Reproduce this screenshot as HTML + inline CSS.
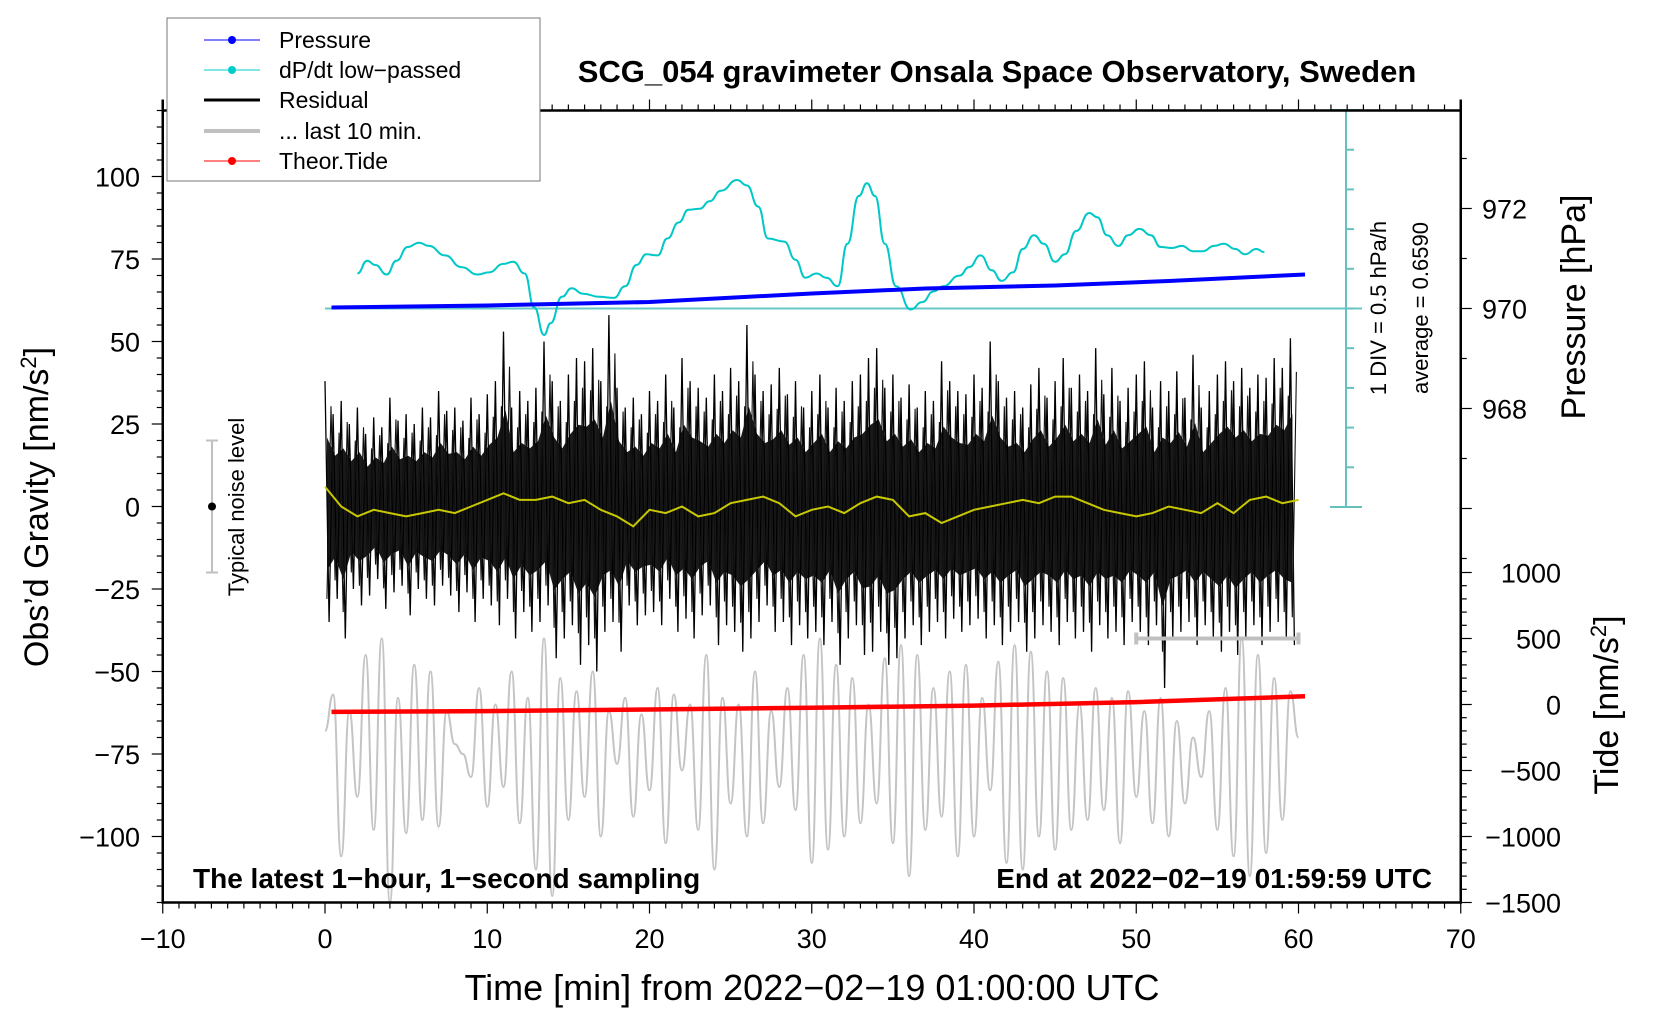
<!DOCTYPE html>
<html><head><meta charset="utf-8"><style>
html,body{margin:0;padding:0;background:#fff;}
svg{display:block;font-family:"Liberation Sans",sans-serif;}
</style></head><body>
<svg id="chart" width="1660" height="1020" viewBox="0 0 1660 1020" xmlns="http://www.w3.org/2000/svg">
<g id="marks"></g>
<g id="axes"></g>
<text x="997" y="82" font-size="31" font-weight="bold" text-anchor="middle">SCG_054 gravimeter Onsala Space Observatory, Sweden</text>
<text x="193" y="888" font-size="28" font-weight="bold">The latest 1−hour, 1−second sampling</text>
<text x="1432" y="888" font-size="28" font-weight="bold" text-anchor="end">End at 2022−02−19 01:59:59 UTC</text>
<text x="812" y="1000" font-size="36" text-anchor="middle">Time [min] from 2022−02−19 01:00:00 UTC</text>
<text transform="translate(48,507) rotate(-90)" font-size="34" text-anchor="middle">Obs’d Gravity [nm/s<tspan font-size="22" dy="-12">2</tspan><tspan dy="12">]</tspan></text>
<text transform="translate(1585,307) rotate(-90)" font-size="34" text-anchor="middle">Pressure [hPa]</text>
<text transform="translate(1618,705) rotate(-90)" font-size="34" text-anchor="middle">Tide [nm/s<tspan font-size="22" dy="-12">2</tspan><tspan dy="12">]</tspan></text>
<text transform="translate(244,507) rotate(-90)" font-size="22" text-anchor="middle">Typical noise level</text>
<text transform="translate(1386,308) rotate(-90)" font-size="22" text-anchor="middle">1 DIV = 0.5 hPa/h</text>
<text transform="translate(1428,308) rotate(-90)" font-size="22" text-anchor="middle">average = 0.6590</text>
<g>
<rect x="167" y="18" width="373" height="163" fill="#fff" stroke="#777" stroke-width="1"/>
<g><line x1="204" y1="40" x2="260" y2="40" stroke="#0000ff" stroke-width="1"/><circle cx="232" cy="40" r="4" fill="#0000ff"/><text x="279" y="48" font-size="23">Pressure</text></g>
<g><line x1="204" y1="70" x2="260" y2="70" stroke="#00cccc" stroke-width="1"/><circle cx="232" cy="70" r="4" fill="#00cccc"/><text x="279" y="78" font-size="23">dP/dt low−passed</text></g>
<g><line x1="204" y1="100" x2="260" y2="100" stroke="#000" stroke-width="3"/><text x="279" y="108" font-size="23">Residual</text></g>
<g><line x1="204" y1="131" x2="260" y2="131" stroke="#c0c0c0" stroke-width="4"/><text x="279" y="139" font-size="23">... last 10 min.</text></g>
<g><line x1="204" y1="161" x2="260" y2="161" stroke="#ff0000" stroke-width="1"/><circle cx="232" cy="161" r="4" fill="#ff0000"/><text x="279" y="169" font-size="23">Theor.Tide</text></g>
</g>
</svg>
<script>
// ---- data ----
const xTicks = [-10,0,10,20,30,40,50,60,70];
const gravTicks = [-100,-75,-50,-25,0,25,50,75,100];
const pressTicks = [968,970,972];
const tideTicks = [-1500,-1000,-500,0,500,1000];
const dpdtTimes = [2.0,2.6,3.1,3.8,4.4,5.1,5.8,6.4,7.4,8.4,9.4,10.1,11.0,11.6,12.3,12.9,13.5,13.9,14.6,15.2,15.9,16.9,17.8,18.5,19.2,19.8,20.5,21.1,21.8,22.4,23.1,23.7,24.4,25.4,26.0,26.7,27.3,28.3,29.0,29.6,30.3,30.9,31.6,32.2,32.9,33.4,33.9,34.5,35.2,36.1,36.8,37.5,38.1,39.1,39.7,40.4,41.1,41.7,42.4,43.0,43.7,44.3,45.0,45.6,46.3,47.1,47.6,48.2,48.9,49.5,50.2,50.9,51.5,52.2,52.8,53.5,54.1,54.8,55.4,56.1,56.7,57.4,57.9];
const dpdtValues = [1.100,1.261,1.207,1.087,1.261,1.434,1.488,1.448,1.328,1.180,1.087,1.114,1.221,1.247,1.100,0.672,0.325,0.472,0.806,0.913,0.846,0.806,0.793,0.940,1.207,1.341,1.328,1.541,1.742,1.902,1.916,2.009,2.143,2.277,2.210,1.943,1.541,1.501,1.274,1.047,1.100,1.047,0.940,1.475,2.076,2.237,2.076,1.475,0.940,0.646,0.739,0.873,0.940,1.073,1.180,1.328,1.140,1.007,1.114,1.408,1.582,1.475,1.247,1.341,1.635,1.862,1.809,1.582,1.448,1.582,1.662,1.582,1.434,1.421,1.448,1.381,1.381,1.448,1.475,1.408,1.341,1.408,1.368];
const dpdtAverage = 0.659;
const pressTimes = [0.4,10,20,30,37,45,52,60.4];
const pressValues = [970.02,970.06,970.13,970.30,970.40,970.46,970.55,970.68];
const tideTimes = [0.4,10,20,30,40,50,60.4];
const tideValues = [-56,-50,-38,-24,-8,18,62];
const resHi = [38,28,32,25,30,22,27,24,33,26,28,25,30,27,35,29,30,26,33,28,34,38,53,30,35,32,36,50,38,32,40,45,44,48,38,58,36,30,33,28,35,32,40,30,45,38,36,33,40,35,42,38,55,40,35,37,42,34,38,30,35,40,30,36,32,38,40,45,48,36,40,33,37,30,35,32,44,38,35,34,40,36,50,38,33,35,30,37,42,33,38,45,36,40,35,48,34,42,32,36,40,44,30,38,35,41,33,46,30,35,40,44,38,42,36,40,39,45,42,51];
const resLo = [-35,-28,-40,-25,-30,-27,-22,-31,-26,-24,-33,-25,-28,-30,-24,-27,-32,-26,-35,-28,-30,-36,-28,-40,-32,-38,-35,-30,-46,-40,-36,-48,-42,-50,-38,-35,-44,-30,-36,-33,-32,-36,-28,-38,-34,-40,-33,-30,-42,-36,-38,-44,-40,-35,-30,-38,-35,-42,-36,-40,-38,-42,-35,-48,-40,-36,-45,-44,-38,-48,-46,-40,-36,-42,-38,-35,-40,-34,-38,-36,-34,-40,-36,-42,-38,-35,-44,-40,-36,-38,-42,-35,-40,-38,-44,-36,-40,-38,-42,-35,-38,-42,-36,-55,-40,-38,-35,-42,-36,-40,-44,-38,-45,-40,-36,-42,-38,-35,-40,-42];
const smoothValues = [6,0,-3,-1,-2,-3,-2,-1,-2,0,2,4,2,2,3,1,2,-1,-3,-6,-1,-2,0,-3,-2,1,2,3,1,-3,-1,0,-2,1,3,2,-3,-2,-5,-3,-1,0,1,2,1,3,3,1,-1,-2,-3,-2,0,-1,-2,1,-2,2,3,1,2];
const grayValues = [-68,-57,-106,-62,-88,-45,-98,-40,-120,-58,-99,-48,-95,-50,-97,-62,-72,-75,-82,-55,-91,-60,-85,-50,-96,-58,-110,-40,-118,-52,-95,-56,-88,-50,-100,-62,-78,-58,-94,-63,-86,-55,-102,-57,-80,-60,-98,-45,-110,-58,-90,-60,-100,-50,-96,-62,-85,-55,-92,-45,-108,-40,-104,-48,-100,-52,-96,-60,-90,-46,-102,-42,-112,-45,-98,-55,-94,-50,-106,-48,-100,-58,-86,-47,-108,-42,-110,-44,-100,-50,-104,-52,-98,-60,-95,-55,-92,-58,-102,-56,-88,-62,-96,-58,-100,-65,-90,-70,-82,-62,-98,-55,-106,-40,-112,-45,-105,-52,-95,-56,-70];
const noiseLevel = 20;
const last10Range = [50,60];

// ---- scales ----
const X = t => 325 + t*16.225;
const Y = g => 506.5 - g*3.3;
const YP = p => 308.5 - (p-970)*50;
const YT = v => 704.5 - v*66/500;
const DIV = 39.7;
const YD = v => 308.5 - (v-dpdtAverage)/0.5*DIV;
const CORE = 0.55;

const NS='http://www.w3.org/2000/svg';
const marks=document.getElementById('marks'), axes=document.getElementById('axes');
function mk(tag,attrs,parent){const e=document.createElementNS(NS,tag);for(const k in attrs)e.setAttribute(k,attrs[k]);parent.appendChild(e);return e;}
function pts(arr){return arr.map(p=>p[0].toFixed(1)+','+p[1].toFixed(1)).join(' ');}
function smoothPath(arr){let d='M'+arr[0][0].toFixed(1)+','+arr[0][1].toFixed(1);
 for(let i=1;i<arr.length;i++){const p0=arr[i-1],p1=arr[i];const mx=(p0[0]+p1[0])/2;d+=` C${mx.toFixed(1)},${p0[1].toFixed(1)} ${mx.toFixed(1)},${p1[1].toFixed(1)} ${p1[0].toFixed(1)},${p1[1].toFixed(1)}`;}return d;}

// gray last 10 min
let gp=grayValues.map((v,i)=>[X(i*60/(grayValues.length-1)),Y(v)]);
let e=mk('path',{d:smoothPath(gp),fill:'none',stroke:'#c4c4c4','stroke-width':2},marks);



// residual core band
let band=[];resHi.forEach((h,i)=>band.push([X(i*0.5+0.125),Y(h*CORE)]));
for(let i=resLo.length-1;i>=0;i--)band.push([X(i*0.5+0.125),Y(resLo[i]*CORE)]);
e=mk('polygon',{points:pts(band),fill:'#1a1a1a',stroke:'none'},marks);



// residual
let rp=[];resHi.forEach((h,i)=>{rp.push([X(i*0.5),Y(h)]);rp.push([X(i*0.5+0.25),Y(resLo[i])]);});
e=mk('polyline',{points:pts(rp),fill:'none',stroke:'#000','stroke-width':1.3},marks);


let rp2=[];resLo.forEach((l,i)=>{rp2.push([X(i*0.5+0.12),Y(l*0.8)]);rp2.push([X(i*0.5+0.37),Y(resHi[i]*0.8)]);});
e=mk('polyline',{points:pts(rp2),fill:'none',stroke:'#111','stroke-width':1.1},marks);



// smoothed residual
e=mk('polyline',{points:pts(smoothValues.map((v,i)=>[X(i),Y(v)])),fill:'none',stroke:'#c8c800','stroke-width':2},marks);



// dP/dt axis and baseline
e=mk('line',{x1:X(0),x2:1362,y1:YD(dpdtAverage),y2:YD(dpdtAverage),stroke:'#66c8c8','stroke-width':2},marks);


e=mk('line',{x1:1346,x2:1346,y1:110,y2:507,stroke:'#66c0c0','stroke-width':2},marks);


for(let k=0;k<=10;k++){const y=110+k*DIV;const full=(k===0||k===10);
 e=mk('line',{x1:full?1330:1346,x2:full?1362:1354,y1:y,y2:y,stroke:'#66c0c0','stroke-width':2},marks);
 
 }

// dP/dt line
e=mk('path',{d:smoothPath(dpdtTimes.map((t,i)=>[X(t),YD(dpdtValues[i])])),fill:'none',stroke:'#00c8c8','stroke-width':2},marks);



// pressure
e=mk('polyline',{points:pts(pressTimes.map((t,i)=>[X(t),YP(pressValues[i])])),fill:'none',stroke:'#0000ff','stroke-width':4},marks);



// tide
e=mk('polyline',{points:pts(tideTimes.map((t,i)=>[X(t),YT(tideValues[i])])),fill:'none',stroke:'#ff0000','stroke-width':4.5},marks);



// last 10 min bar
const by=YT(500);
e=mk('path',{d:`M${X(last10Range[0])},${by}H${X(last10Range[1])}M${X(last10Range[0])},${by-6}V${by+6}M${X(last10Range[1])},${by-6}V${by+6}`,stroke:'#c0c0c0','stroke-width':4,fill:'none'},marks);



// noise level bar
e=mk('path',{d:`M212,${Y(noiseLevel)}V${Y(-noiseLevel)}M206,${Y(noiseLevel)}H218M206,${Y(-noiseLevel)}H218`,stroke:'#c0c0c0','stroke-width':2,fill:'none'},marks);


e=mk('circle',{cx:212,cy:Y(0),r:4,fill:'#000'},marks);



// frame
const L=X(-10),R=X(70),T=Y(120),B=Y(-120);
e=mk('path',{d:`M${L},${T-11}V${B}H${R}V${T-11}M${L},${T}H${R}`,stroke:'#000','stroke-width':2.5,fill:'none'},axes);



// x ticks
for(let m=-10;m<=70;m++){const x=X(m);const maj=m%10===0;
 e=mk('line',{x1:x,x2:x,y1:B,y2:B+(maj?11:6),stroke:'#000','stroke-width':1.2},axes);
 
 
 e=mk('line',{x1:x,x2:x,y1:T,y2:T-(maj?11:6),stroke:'#000','stroke-width':1.2},axes);
 
 }
xTicks.forEach(v=>{e=mk('text',{x:X(v),y:948,'font-size':27,'text-anchor':'middle'},axes);e.textContent=String(v).replace('-','−');
 
 });

// gravity ticks
for(let g=-120;g<=120;g+=5){const y=Y(g);const maj=g%25===0;
 e=mk('line',{x1:L,x2:L-(maj?11:6),y1:y,y2:y,stroke:'#000','stroke-width':1.2},axes);
 
 }
gravTicks.forEach(v=>{e=mk('text',{x:140,y:Y(v)+10,'font-size':27,'text-anchor':'end'},axes);e.textContent=String(v).replace('-','−');
 
 });

// pressure ticks
for(let p=965;p<=973;p++){const y=YP(p);const maj=p%2===0;
 e=mk('line',{x1:R,x2:R+(maj?11:6),y1:y,y2:y,stroke:'#000','stroke-width':1.2},axes);
 
 }
pressTicks.forEach(v=>{e=mk('text',{x:1482,y:YP(v)+10,'font-size':27},axes);e.textContent=v;
 
 });

// tide ticks
for(let v=-1500;v<=1000;v+=100){const y=YT(v);const maj=v%500===0;
 e=mk('line',{x1:R,x2:R+(maj?11:6),y1:y,y2:y,stroke:'#000','stroke-width':1.2},axes);
 
 }
tideTicks.forEach(v=>{e=mk('text',{x:1561,y:YT(v)+10,'font-size':27,'text-anchor':'end'},axes);e.textContent=String(v).replace('-','−');
 
 });
</script>
</body></html>
